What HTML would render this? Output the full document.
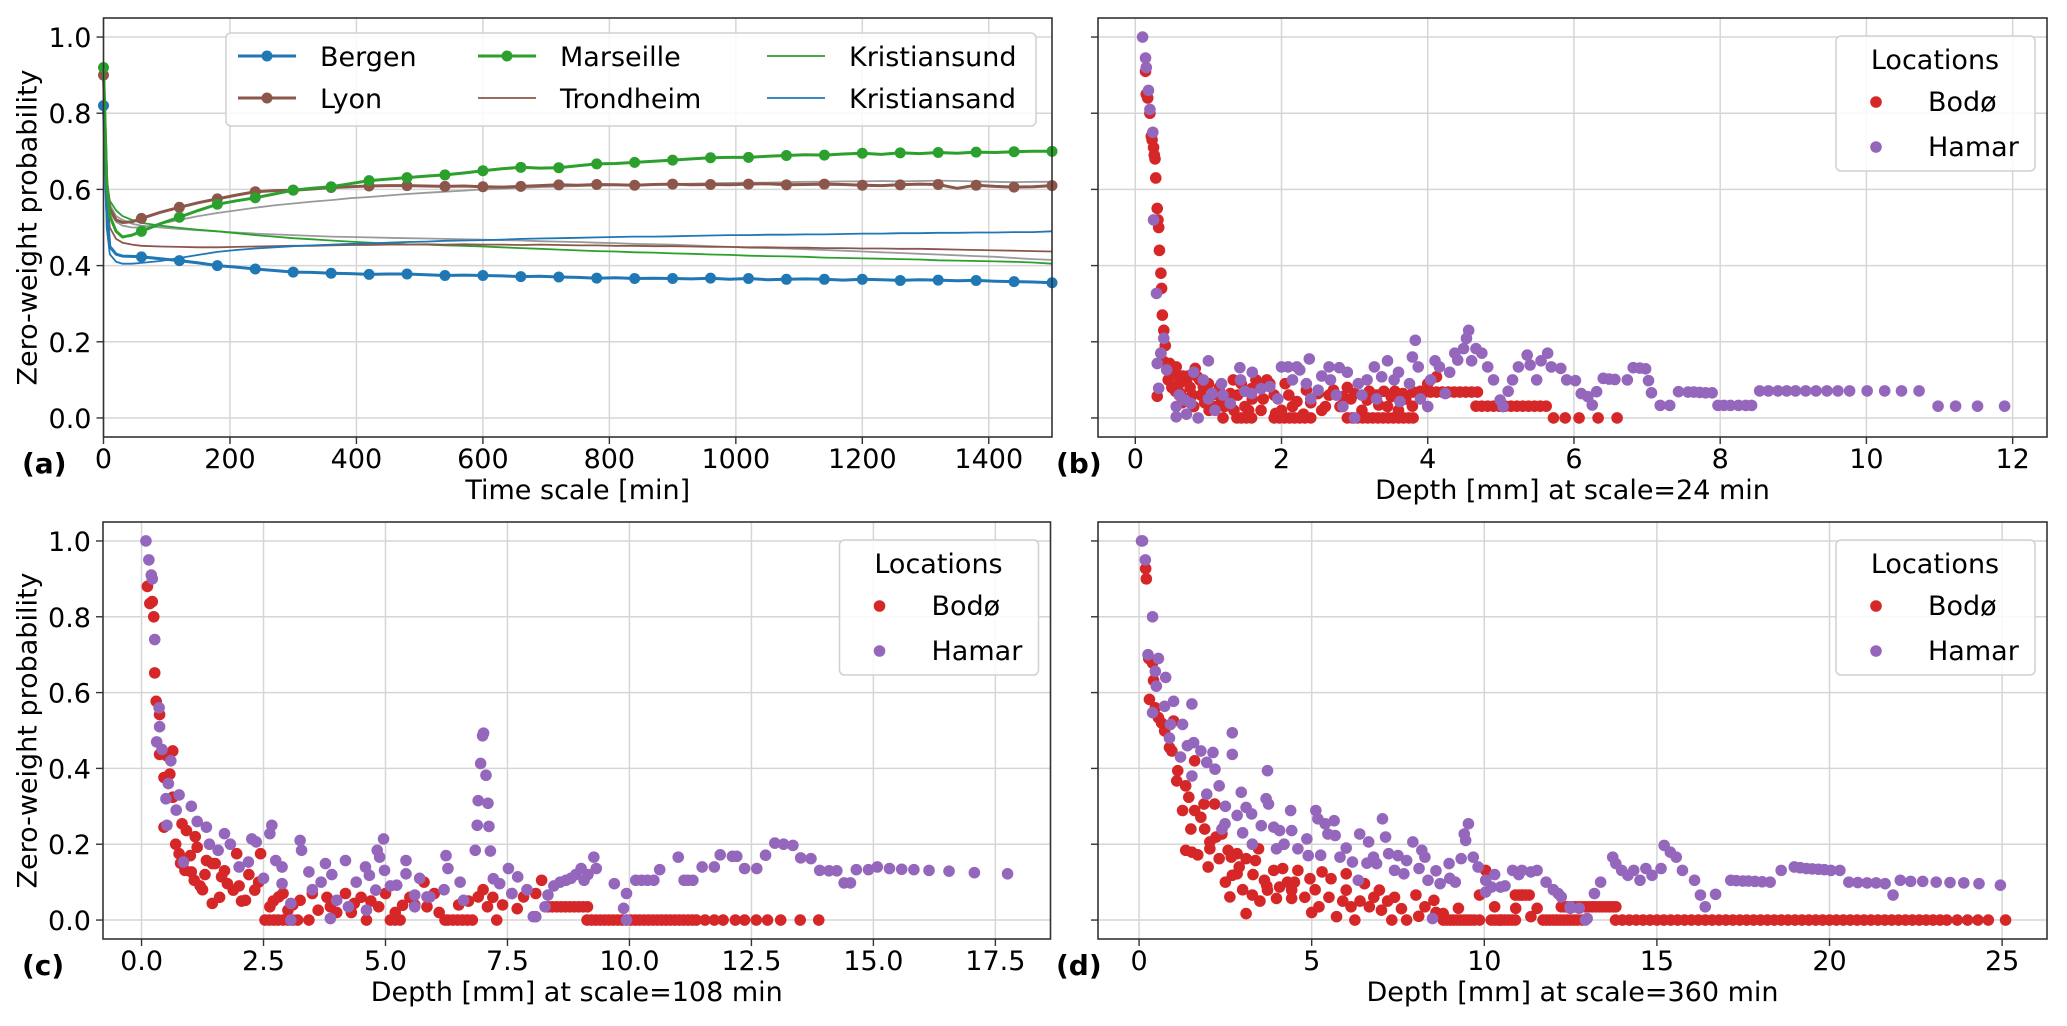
<!DOCTYPE html>
<html><head><meta charset="utf-8"><style>
body{margin:0;background:#fff}
svg{display:block;font-family:"DejaVu Sans","Liberation Sans",sans-serif}
</style></head><body>
<svg id="fig" width="2067" height="1026" viewBox="0 0 2067 1026" xmlns="http://www.w3.org/2000/svg"></svg>
<script>
// ---------- Panel (a) data ----------
const timeMin = [0,5,10,20,30,45,60,90,120,150,180,210,240,270,300,330,360,390,420,450,480,510,540,570,600,630,660,690,720,750,780,810,840,870,900,930,960,990,1020,1050,1080,1110,1140,1170,1200,1230,1260,1290,1320,1350,1380,1410,1440,1470,1500];
const bergen = [0.82,0.55,0.45,0.43,0.425,0.424,0.423,0.418,0.413,0.407,0.40,0.396,0.391,0.387,0.383,0.382,0.38,0.379,0.377,0.378,0.378,0.376,0.374,0.375,0.374,0.373,0.371,0.372,0.370,0.369,0.367,0.368,0.366,0.367,0.366,0.365,0.367,0.364,0.366,0.363,0.364,0.365,0.364,0.362,0.364,0.363,0.361,0.363,0.362,0.360,0.361,0.359,0.358,0.357,0.355];
const marseille = [0.92,0.62,0.53,0.49,0.475,0.48,0.49,0.51,0.527,0.545,0.561,0.57,0.578,0.588,0.598,0.603,0.607,0.615,0.623,0.627,0.631,0.635,0.638,0.643,0.649,0.654,0.658,0.656,0.657,0.662,0.667,0.668,0.671,0.674,0.677,0.68,0.683,0.684,0.684,0.687,0.689,0.691,0.69,0.693,0.695,0.692,0.696,0.694,0.697,0.695,0.698,0.697,0.699,0.70,0.70];
const lyon = [0.90,0.62,0.55,0.52,0.513,0.515,0.524,0.54,0.553,0.565,0.575,0.585,0.594,0.597,0.598,0.601,0.605,0.607,0.609,0.61,0.61,0.609,0.608,0.609,0.607,0.606,0.608,0.61,0.612,0.611,0.613,0.612,0.611,0.613,0.614,0.612,0.613,0.612,0.614,0.615,0.612,0.613,0.614,0.613,0.611,0.610,0.612,0.614,0.613,0.603,0.611,0.608,0.606,0.607,0.61];
const grayUp = [0.90,0.6,0.54,0.515,0.505,0.50,0.50,0.51,0.52,0.53,0.538,0.545,0.552,0.558,0.563,0.568,0.572,0.577,0.58,0.584,0.588,0.591,0.594,0.597,0.60,0.602,0.604,0.606,0.607,0.609,0.61,0.611,0.612,0.613,0.614,0.615,0.616,0.617,0.618,0.618,0.619,0.62,0.62,0.621,0.621,0.622,0.621,0.622,0.623,0.622,0.621,0.62,0.619,0.62,0.62];
const grayDown = [0.90,0.62,0.56,0.53,0.52,0.51,0.505,0.5,0.496,0.493,0.49,0.487,0.484,0.482,0.48,0.478,0.476,0.475,0.474,0.473,0.472,0.471,0.470,0.469,0.468,0.467,0.466,0.464,0.463,0.462,0.46,0.459,0.457,0.456,0.455,0.453,0.451,0.449,0.447,0.446,0.445,0.443,0.441,0.439,0.437,0.435,0.433,0.431,0.429,0.427,0.425,0.423,0.42,0.417,0.415];
const kristiansund = [0.92,0.62,0.57,0.545,0.53,0.52,0.512,0.505,0.499,0.494,0.49,0.485,0.48,0.476,0.472,0.469,0.466,0.463,0.46,0.458,0.456,0.455,0.453,0.452,0.45,0.448,0.446,0.444,0.442,0.44,0.438,0.437,0.435,0.434,0.432,0.431,0.429,0.428,0.426,0.425,0.424,0.423,0.421,0.42,0.419,0.418,0.417,0.416,0.414,0.413,0.412,0.411,0.41,0.408,0.405];
const trondheim = [0.88,0.58,0.50,0.47,0.46,0.455,0.452,0.45,0.449,0.448,0.448,0.449,0.45,0.451,0.452,0.452,0.453,0.454,0.454,0.455,0.455,0.456,0.455,0.456,0.455,0.455,0.454,0.455,0.454,0.453,0.453,0.452,0.452,0.451,0.451,0.45,0.449,0.449,0.448,0.448,0.447,0.447,0.446,0.446,0.445,0.445,0.444,0.444,0.443,0.442,0.441,0.44,0.439,0.438,0.437];
const kristiansand = [0.85,0.5,0.43,0.41,0.405,0.405,0.407,0.412,0.42,0.428,0.436,0.441,0.445,0.448,0.451,0.453,0.455,0.457,0.458,0.46,0.462,0.463,0.465,0.466,0.467,0.468,0.47,0.471,0.472,0.473,0.474,0.475,0.476,0.476,0.477,0.478,0.479,0.48,0.48,0.481,0.481,0.482,0.482,0.483,0.484,0.484,0.485,0.485,0.486,0.486,0.487,0.487,0.488,0.488,0.49];
const timeTicks = [0,200,400,600,800,1000,1200,1400];
const probTicks = [0.0,0.2,0.4,0.6,0.8,1.0];

// ---------- Panel (b): depth at scale=24 min ----------
const bodoB = [[0.14,0.91],[0.15,0.85],[0.17,0.84],[0.2,0.8],[0.22,0.74],[0.23,0.73],[0.25,0.71],[0.26,0.69],[0.27,0.68],[0.28,0.63],[0.3,0.55],[0.31,0.52],[0.32,0.5],[0.33,0.44],[0.35,0.38],[0.36,0.34],[0.37,0.27],[0.39,0.23],[0.41,0.19],[0.35,0.17],[0.39,0.148],[0.47,0.143],[0.56,0.134],[0.82,0.13],[0.3,0.057],[0.62,0.064],[0.7,0.098],[0.85,0.108],[0.93,0.082],[1.01,0.02],[1.18,0.047],[1.3,0.064],[1.34,0.1],[1.59,0.077],[1.8,0.1],[1.84,0.09],[1.72,0.02],[2.0,0.02],[2.21,0.043],[2.34,0.073],[2.5,0.064],[2.71,0.073],[2.84,0.056],[3.0,0.064],[3.17,0.047],[3.33,0.034],[3.5,0.056],[3.66,0.064],[3.79,0.031],[4.12,0.108],[1.92,0.012],[1.5,0.03],[0.5,0.12],[0.6,0.09],[0.7,0.05],[0.8,0.03],[0.9,0.06],[1.0,0.09],[1.1,0.03],[1.2,0.0],[0.55,0.07],[0.65,0.11],[0.75,0.08],[1.25,0.04],[1.4,0.06],[1.6,0.05],[1.7,0.08],[2.1,0.06],[2.3,0.01],[2.6,0.03],[2.9,0.08],[3.1,0.02],[3.4,0.07],[3.6,0.02],[5.72,0],[5.88,0],[6.07,0],[6.33,0],[6.59,0],[0.45,0.1],[0.5,0.08],[0.58,0.11],[0.64,0.04],[0.72,0.11],[0.78,0.06],[0.88,0.1],[0.95,0.04],[1.05,0.06],[1.15,0.08],[1.22,0.03],[1.35,0.02],[1.45,0.09],[1.55,0.02],[1.65,0.1],[1.75,0.05],[1.9,0.06],[2.05,0.09],[2.15,0.03],[2.4,0.04],[2.55,0.02],[2.65,0.06],[2.8,0.03],[2.95,0.05],[3.2,0.07],[3.3,0.06],[3.45,0.03],[3.55,0.07],[3.7,0.05],[3.9,0.07],[4.0,0.09]];
const bodoBRuns = [[0,[1.39,1.45,1.52,1.59,1.9,1.97,2.04,2.11,2.18,2.25,2.32,2.4,2.9,2.97,3.04,3.11,3.18,3.25,3.32,3.39,3.46,3.53,3.6,3.67,3.74,3.8]],[0.068,[3.8,3.88,3.96,4.04,4.12,4.2,4.28,4.36,4.44,4.52,4.6,4.68]],[0.031,[4.66,4.74,4.82,4.9,4.98,5.06,5.14,5.22,5.3,5.38,5.46,5.54,5.62]]];
const hamarB = [[0.1,1.0],[0.14,0.945],[0.15,0.92],[0.18,0.86],[0.2,0.81],[0.24,0.75],[0.25,0.52],[0.29,0.327],[0.3,0.143],[0.35,0.17],[0.39,0.209],[0.32,0.078],[0.43,0.126],[0.56,0.03],[0.56,0.003],[0.68,0.047],[0.76,0.038],[0.86,0],[0.93,0.1],[1.05,0.064],[1.09,0.02],[1.18,0.09],[1.3,0.038],[1.43,0.132],[1.44,0.1],[1.59,0.064],[1.72,0.077],[1.84,0.082],[2.0,0.134],[2.09,0.134],[2.21,0.134],[2.25,0.126],[2.38,0.155],[2.34,0.09],[2.5,0.073],[2.65,0.134],[2.79,0.132],[2.67,0.1],[2.84,0.03],[3.0,0.0],[3.17,0.1],[3.27,0.134],[3.37,0.108],[3.54,0.1],[3.62,0.043],[3.75,0.09],[3.79,0.16],[3.83,0.204],[3.87,0.134],[4.04,0.1],[4.0,0.03],[4.16,0.134],[4.24,0.064],[4.37,0.17],[4.41,0.152],[4.49,0.182],[4.56,0.23],[4.53,0.209],[4.66,0.182],[4.74,0.17],[4.82,0.134],[4.9,0.1],[4.99,0.047],[5.03,0.03],[5.16,0.1],[5.24,0.134],[5.36,0.165],[5.4,0.139],[5.49,0.1],[5.64,0.17],[5.69,0.134],[5.82,0.13],[5.9,0.1],[6.02,0.098],[6.1,0.064],[6.19,0.056],[6.25,0.034],[6.31,0.069],[6.4,0.104],[6.48,0.102],[6.56,0.101],[6.73,0.1],[6.81,0.132],[6.9,0.131],[6.98,0.129],[7.02,0.098],[7.06,0.066],[7.18,0.033],[7.31,0.033],[7.43,0.069],[7.56,0.068],[7.64,0.068],[7.72,0.067],[7.8,0.066],[7.89,0.066],[7.97,0.033],[8.05,0.033],[8.14,0.033],[8.25,0.033],[8.35,0.033],[8.43,0.033],[8.54,0.071],[8.66,0.071],[8.79,0.071],[8.91,0.071],[9.03,0.071],[9.17,0.071],[9.31,0.071],[9.46,0.071],[9.61,0.071],[9.77,0.071],[10.01,0.071],[10.25,0.071],[10.48,0.071],[10.72,0.071],[10.98,0.031],[11.22,0.031],[11.52,0.031],[11.89,0.031],[0.8,0.12],[1.0,0.15],[1.2,0.06],[1.6,0.12],[2.4,0.05],[2.9,0.12],[3.1,0.06],[3.45,0.15],[3.9,0.05],[0.6,0.06],[0.7,0.01],[1.0,0.05],[1.5,0.07],[1.95,0.05],[2.15,0.1],[2.55,0.11],[2.75,0.06],[3.05,0.09],[3.3,0.05],[3.6,0.12],[4.1,0.15],[4.3,0.12],[4.6,0.15],[5.1,0.07],[5.55,0.15]];
const depthTicksB = [0,2,4,6,8,10,12];

// ---------- Panel (c): depth at scale=108 min ----------
const bodoC = [[0.12,0.88],[0.17,0.835],[0.22,0.84],[0.25,0.8],[0.27,0.652],[0.3,0.577],[0.37,0.542],[0.37,0.437],[0.52,0.433],[0.64,0.446],[0.46,0.376],[0.58,0.385],[0.64,0.324],[0.46,0.245],[0.83,0.254],[0.92,0.236],[0.77,0.175],[0.89,0.131],[1.02,0.127],[1.08,0.105],[1.14,0.192],[1.33,0.157],[1.45,0.149],[1.45,0.044],[1.51,0.149],[1.64,0.114],[1.76,0.096],[1.88,0.079],[1.95,0.175],[2.13,0.052],[2.32,0.079],[2.44,0.175],[2.63,0.035],[2.81,0.061],[3.0,0.026],[3.25,0.052],[3.43,0],[3.62,0.026],[3.87,0.035],[4.18,0.07],[4.36,0.044],[4.61,0],[4.86,0.035],[5.35,0.039],[5.79,0.1],[5.85,0.035],[6.22,0],[6.9,0.061],[7.09,0.035],[7.28,0],[7.59,0.07],[7.83,0.061],[8.2,0.105],[8.08,0.07],[0.7,0.2],[0.8,0.15],[1.0,0.17],[1.2,0.09],[1.3,0.12],[1.6,0.06],[2.0,0.09],[2.2,0.12],[2.7,0.05],[3.5,0.07],[4.0,0.02],[4.5,0.06],[5.0,0.07],[5.6,0.04],[6.0,0.07],[6.5,0.04],[7.4,0.04],[11.55,0],[11.74,0],[11.92,0],[12.17,0],[12.36,0],[12.6,0],[12.83,0],[13.1,0],[13.5,0],[13.88,0],[1.1,0.22],[1.25,0.08],[1.7,0.13],[2.05,0.05],[2.4,0.1],[2.9,0.07],[3.1,0.04],[3.8,0.06],[4.3,0.02],[4.7,0.05],[5.2,0.02],[5.5,0.06],[6.1,0.02],[6.7,0.05],[7.0,0.08],[7.2,0.06],[7.7,0.03]];
const bodoCRuns = [[0.035,[8.33,8.42,8.51,8.6,8.69,8.78,8.87,8.96,9.05,9.14]],[0,[2.53,2.62,2.71,2.8,2.9,3.0,3.1,3.2,5.1,5.2,5.3,6.28,6.38,6.48,6.58,6.68,6.78,9.13,9.22,9.31,9.4,9.49,9.58,9.67,9.76,9.85,9.94,10.03,10.12,10.21,10.3,10.39,10.48,10.57,10.66,10.75,10.84,10.93,11.02,11.11,11.2,11.29,11.37]]];
const hamarC = [[0.09,1.0],[0.15,0.95],[0.2,0.91],[0.22,0.9],[0.27,0.74],[0.36,0.56],[0.37,0.51],[0.31,0.47],[0.42,0.45],[0.6,0.42],[0.55,0.36],[0.5,0.32],[0.77,0.33],[0.52,0.25],[0.71,0.29],[1.02,0.3],[1.14,0.26],[1.33,0.245],[0.86,0.153],[1.39,0.2],[1.7,0.228],[1.57,0.184],[1.82,0.2],[2.26,0.214],[2.35,0.206],[2.67,0.25],[2.63,0.228],[2.19,0.153],[2.75,0.157],[2.88,0.14],[2.88,0.096],[3.25,0.21],[3.28,0.184],[3.43,0.127],[3.06,0],[3.68,0.1],[3.77,0.149],[4.18,0.157],[4.59,0.14],[4.67,0.118],[4.83,0.184],[4.88,0.166],[4.96,0.214],[4.98,0.131],[5.42,0.157],[5.42,0.122],[5.6,0.066],[5.85,0.061],[6.24,0.17],[6.28,0.136],[6.53,0.1],[6.84,0.184],[6.88,0.25],[6.9,0.315],[6.99,0.486],[7.01,0.493],[6.95,0.413],[7.06,0.382],[7.1,0.308],[7.12,0.247],[7.15,0.182],[7.21,0.109],[7.52,0.136],[7.71,0.114],[8.03,0.009],[8.33,0.066],[8.7,0.105],[9.01,0.136],[9.32,0.136],[9.27,0.166],[9.69,0.096],[9.94,0.07],[9.88,0.031],[9.94,0],[10.13,0.105],[10.37,0.105],[10.62,0.133],[11.0,0.166],[11.12,0.105],[11.3,0.105],[11.49,0.14],[11.74,0.14],[11.86,0.172],[12.11,0.168],[12.36,0.136],[12.61,0.136],[12.79,0.171],[12.98,0.203],[13.16,0.2],[13.35,0.197],[13.51,0.164],[13.72,0.162],[13.9,0.131],[14.09,0.13],[14.25,0.13],[14.4,0.098],[14.53,0.098],[14.65,0.133],[14.9,0.133],[15.08,0.14],[15.33,0.136],[15.58,0.134],[15.83,0.133],[16.14,0.131],[16.55,0.129],[17.07,0.125],[17.75,0.122],[3.06,0.044],[4.0,0.052],[4.24,0.035],[4.8,0.079],[5.23,0.092],[5.6,0.035],[5.91,0.061],[6.6,0.052],[7.34,0.096],[7.59,0.07],[8.08,0.009],[8.27,0.035],[8.58,0.1],[9.07,0.105],[3.87,0.004],[4.61,0.026],[8.8,0.11],[8.9,0.12],[10.25,0.105],[11.2,0.105],[12.2,0.168],[2.0,0.14],[2.5,0.11],[3.5,0.08],[3.9,0.12],[4.4,0.1],[5.1,0.09],[5.7,0.11],[6.2,0.08],[7.9,0.08],[8.45,0.09],[9.15,0.12],[10.5,0.105]];
const depthTicksC = [0.0,2.5,5.0,7.5,10.0,12.5,15.0,17.5];

// ---------- Panel (d): depth at scale=360 min ----------
const bodoD = [[0.19,0.927],[0.21,0.9],[0.28,0.69],[0.39,0.678],[0.42,0.632],[0.3,0.582],[0.47,0.56],[0.56,0.534],[0.65,0.52],[1.0,0.525],[0.74,0.499],[0.88,0.455],[0.95,0.446],[1.12,0.394],[1.09,0.367],[1.35,0.354],[1.61,0.42],[1.44,0.324],[1.26,0.289],[1.61,0.289],[1.88,0.306],[2.19,0.306],[1.79,0.271],[2.05,0.206],[2.23,0.219],[2.4,0.227],[1.35,0.184],[1.53,0.179],[1.7,0.172],[2.05,0.188],[2.32,0.162],[2.58,0.184],[2.67,0.166],[2.84,0.175],[3.1,0.162],[3.46,0.188],[3.37,0.157],[2.84,0.122],[2.7,0.118],[2.63,0.061],[3.1,0.017],[3.28,0.066],[3.63,0.105],[3.9,0.131],[4.16,0.136],[4.6,0.131],[4.95,0.109],[3.72,0.079],[4.07,0.087],[4.42,0.079],[3.98,0.057],[4.42,0.057],[5.3,0.127],[5.56,0.109],[6.0,0.122],[6.0,0.079],[6.53,0.096],[6.96,0.079],[5.72,0.009],[6.25,0],[5.21,0.035],[6.14,0.035],[6.67,0.035],[7.02,0.026],[7.32,0],[7.75,0],[8.02,0.066],[8.28,0.035],[8.54,0.052],[8.81,0.017],[9.25,0.031],[10.04,0.131],[9.86,0.066],[10.3,0.035],[10.47,0],[10.91,0.031],[11.09,0.066],[11.35,0.009],[11.53,0.031],[2.0,0.14],[2.5,0.1],[3.0,0.08],[3.5,0.05],[4.3,0.1],[4.8,0.06],[5.0,0.02],[5.5,0.06],[6.4,0.05],[7.2,0.05],[7.6,0.03],[8.1,0.01],[1.5,0.24],[1.9,0.24],[2.9,0.14],[3.3,0.12],[3.7,0.09],[4.5,0.1],[5.1,0.08],[5.9,0.05],[6.8,0.06],[7.4,0.06],[8.6,0.02]];
const bodoDRuns = [[0,[8.81,8.91,9.01,9.11,9.21,9.31,9.41,9.51,9.61,9.71,9.86,10.2,10.3,10.4,10.5,10.6,10.7,10.8,10.9,11.7,11.8,11.9,12.0,12.1,12.2,12.3,12.4,12.5,12.6,12.7,12.84,13.8,14.0,14.2,14.4,14.6,14.8,15.0,15.2,15.4,15.6,15.8,16.0,16.2,16.4,16.6,16.8,17.0,17.2,17.4,17.6,17.8,18.0,18.2,18.4,18.6,18.8,19.0,19.2,19.4,19.6,19.8,20.0,20.2,20.4,20.6,20.8,21.0,21.2,21.4,21.6,21.8,22.0,22.2,22.4,22.6,22.8,23.0,23.2,23.4,23.7,24.0,24.3,24.6,25.1]],[0.035,[12.23,12.33,12.43,12.53,12.63,12.73,12.83,12.93,13.03,13.13,13.23,13.33,13.43,13.53,13.63,13.73,13.81]],[0.066,[10.9,11.0,11.1,11.2,11.3]]];
const hamarD = [[0.07,1.0],[0.1,1.0],[0.18,0.95],[0.39,0.8],[0.26,0.7],[0.56,0.69],[0.47,0.656],[0.5,0.617],[0.77,0.64],[0.39,0.547],[0.74,0.564],[1.0,0.577],[1.53,0.57],[0.91,0.516],[1.26,0.516],[0.88,0.48],[1.4,0.46],[1.58,0.468],[1.79,0.446],[2.14,0.442],[2.7,0.494],[2.7,0.437],[1.96,0.416],[2.2,0.398],[1.53,0.38],[2.32,0.354],[1.96,0.332],[2.96,0.337],[3.72,0.394],[3.68,0.32],[3.75,0.306],[3.1,0.297],[2.84,0.276],[3.26,0.28],[2.49,0.254],[2.4,0.24],[3.28,0.2],[3.54,0.249],[3.9,0.245],[4.39,0.289],[4.07,0.236],[4.42,0.236],[3.98,0.188],[4.6,0.188],[4.86,0.214],[5.12,0.289],[5.18,0.267],[5.39,0.254],[5.65,0.262],[5.47,0.227],[5.68,0.223],[5.26,0.171],[5.82,0.166],[6.39,0.227],[6.65,0.206],[7.05,0.267],[7.14,0.219],[7.23,0.175],[6.79,0.166],[6.18,0.153],[6.35,0.105],[6.88,0.149],[7.4,0.131],[7.75,0.157],[7.93,0.206],[8.19,0.184],[8.11,0.136],[7.67,0.122],[8.28,0.166],[8.37,0.105],[8.72,0.096],[8.98,0.149],[9.16,0.1],[9.33,0.162],[9.42,0.227],[9.54,0.254],[9.46,0.21],[9.68,0.166],[9.82,0.14],[10.04,0.105],[10.21,0.087],[10.47,0.087],[10.82,0.131],[11.09,0.131],[11.35,0.127],[11.53,0.131],[11.79,0.1],[12.14,0.07],[12.49,0.031],[12.75,0.031],[12.93,0],[13.19,0.07],[13.37,0.1],[13.72,0.166],[13.81,0.149],[13.98,0.131],[14.16,0.118],[14.33,0.131],[14.51,0.105],[14.68,0.136],[14.86,0.118],[15.12,0.136],[15.21,0.197],[15.39,0.179],[15.56,0.166],[15.74,0.131],[16.09,0.105],[16.26,0.066],[16.4,0.035],[16.7,0.068],[17.14,0.105],[17.3,0.104],[17.49,0.103],[17.65,0.103],[17.84,0.102],[18.05,0.101],[18.28,0.1],[18.6,0.131],[18.98,0.14],[19.15,0.138],[19.33,0.136],[19.5,0.135],[19.68,0.134],[19.85,0.133],[20.04,0.131],[20.3,0.131],[20.56,0.1],[20.82,0.099],[21.09,0.098],[21.35,0.098],[21.61,0.096],[21.84,0.066],[22.05,0.105],[22.35,0.102],[22.7,0.102],[23.09,0.1],[23.49,0.099],[23.89,0.098],[24.33,0.096],[24.95,0.092],[8.5,0.004],[12.98,0.004],[10.04,0.074],[12.49,0.035],[12.23,0.061],[10.6,0.09],[11.0,0.12],[12.0,0.08],[10.3,0.12],[1.2,0.43],[2.5,0.3],[3.0,0.23],[4.2,0.2],[4.9,0.17],[6.0,0.19],[6.6,0.15],[7.5,0.17],[8.6,0.13],[9.0,0.11]];
const depthTicksD = [0,5,10,15,20,25];

// ---------- rendering ----------
const NS = 'http://www.w3.org/2000/svg';
const svg = document.getElementById('fig');
const C = {bodo:'#d62728', hamar:'#9467bd', bergen:'#1f77b4', lyon:'#8c564b', marseille:'#2ca02c', gray:'#9a9a9a'};
const R_PT = 5.8;
function mk(tag, attrs, parent){
  const e = document.createElementNS(NS, tag);
  for (const k in attrs) e.setAttribute(k, attrs[k]);
  (parent||svg).appendChild(e);
  return e;
}
function makeAxes(key, L, R, T, B, xmin, xmax, ymin, ymax){
  const g = mk('g', {});
  
  
  const sx = v => L + (v - xmin) / (xmax - xmin) * (R - L);
  const sy = v => B - (v - ymin) / (ymax - ymin) * (B - T);
  return {g, sx, sy, L, R, T, B};
}
function grid(ax, xt, yt){
  const gg = mk('g', {}, ax.g);
  
  
  xt.forEach(v => mk('line', {x1:ax.sx(v), x2:ax.sx(v), y1:ax.T, y2:ax.B, stroke:'#d6d6d6', 'stroke-width':1.5}, gg));
  yt.forEach(v => mk('line', {x1:ax.L, x2:ax.R, y1:ax.sy(v), y2:ax.sy(v), stroke:'#d6d6d6', 'stroke-width':1.5}, gg));
}
function frame(ax, xt, yt, xfmt, showY, xlabel, panel){
  mk('rect', {x:ax.L, y:ax.T, width:ax.R-ax.L, height:ax.B-ax.T, fill:'none', stroke:'#333', 'stroke-width':1.6}, ax.g);
  xt.forEach(v => {
    mk('line', {x1:ax.sx(v), x2:ax.sx(v), y1:ax.B, y2:ax.B+7, stroke:'#333', 'stroke-width':1.4}, ax.g);
    const t = mk('text', {x:ax.sx(v), y:ax.B+31, 'text-anchor':'middle', 'font-size':27, fill:'#000'}, ax.g);
    t.textContent = xfmt(v);
    
    
  });
  yt.forEach(v => {
    mk('line', {x1:ax.L-7, x2:ax.L, y1:ax.sy(v), y2:ax.sy(v), stroke:'#333', 'stroke-width':1.4}, ax.g);
    if (showY){
      const t = mk('text', {x:ax.L-12, y:ax.sy(v)+10, 'text-anchor':'end', 'font-size':27, fill:'#000'}, ax.g);
      t.textContent = v.toFixed(1);
      
      
    }
  });
  const xl = mk('text', {x:(ax.L+ax.R)/2, y:ax.B+62, 'text-anchor':'middle', 'font-size':27, fill:'#000'}, ax.g);
  xl.textContent = xlabel;
  
  
  const pl = mk('text', {x:(showY ? 22 : ax.L-42), y:ax.B+36, 'font-size':28, 'font-weight':'bold', fill:'#000'}, ax.g);
  pl.textContent = panel;
  
  
  if (showY){
    const cy = (ax.T+ax.B)/2;
    const yl = mk('text', {x:29, y:cy, 'text-anchor':'middle', 'font-size':27, fill:'#000', transform:'rotate(-90 29 '+cy+')', 'dominant-baseline':'middle'}, ax.g);
    yl.textContent = 'Zero-weight probability';
    
    
  }
}
function scatter(ax, pts, runs, color, name){
  const g = mk('g', {fill:color}, ax.g);
  
  
  pts.forEach(p => {
    const c = mk('circle', {cx:ax.sx(p[0]), cy:ax.sy(p[1]), r:R_PT}, g);
    
    
  });
  runs.forEach(r => r[1].forEach(x => {
    const c = mk('circle', {cx:ax.sx(x), cy:ax.sy(r[0]), r:R_PT}, g);
    
    
  }));
}
function scatterLegend(ax){
  const x0 = ax.R - 211, y0 = ax.T + 18;
  const g = mk('g', {}, ax.g);
  
  
  mk('rect', {x:x0, y:y0, width:199, height:135, rx:5, fill:'#fff', 'fill-opacity':0.85, stroke:'#d0d0d0', 'stroke-width':1.5}, g);
  const t = mk('text', {x:x0+99, y:y0+33, 'text-anchor':'middle', 'font-size':27}, g); t.textContent = 'Locations';
  [['Bodø', C.bodo, 75], ['Hamar', C.hamar, 120]].forEach(e => {
    const item = mk('g', {}, g);
    
    
    mk('circle', {cx:x0+40, cy:y0+e[2]-9, r:R_PT, fill:e[1]}, item);
    const tt = mk('text', {x:x0+92, y:y0+e[2], 'font-size':27}, item); tt.textContent = e[0];
  });
}

// Panel (a)
const A = makeAxes('a', 103.5, 1052, 18, 437, 0, 1500, -0.05, 1.05);
grid(A, timeTicks, probTicks);
function line(ax, ys, color, w, name, markers){
  const g = mk('g', {}, ax.g);
  
  
  const d = timeMin.map((t,i) => (i?'L':'M') + ax.sx(t).toFixed(1) + ' ' + ax.sy(ys[i]).toFixed(1)).join(' ');
  mk('path', {d, fill:'none', stroke:color, 'stroke-width':w, 'stroke-linejoin':'round'}, g);
  if (markers) timeMin.forEach((t,i) => { if (t % 60 === 0) mk('circle', {cx:ax.sx(t), cy:ax.sy(ys[i]), r:5.5, fill:color}, g); });
}
line(A, grayUp, C.gray, 1.8, 'series-gray-increasing', false);
line(A, grayDown, C.gray, 1.8, 'series-gray-decreasing', false);
line(A, kristiansund, C.marseille, 1.8, 'series-kristiansund', false);
line(A, trondheim, C.lyon, 1.8, 'series-trondheim', false);
line(A, kristiansand, C.bergen, 1.8, 'series-kristiansand', false);
line(A, bergen, C.bergen, 3, 'series-bergen', true);
line(A, lyon, C.lyon, 3, 'series-lyon', true);
line(A, marseille, C.marseille, 3, 'series-marseille', true);
frame(A, timeTicks, probTicks, v => String(v), true, 'Time scale [min]', '(a)');
(function(){
  const g = mk('g', {}, A.g);
  
  
  mk('rect', {x:226, y:33, width:810, height:93, rx:5, fill:'#fff', 'fill-opacity':0.85, stroke:'#d0d0d0', 'stroke-width':1.5}, g);
  const items = [['Bergen',C.bergen,true,238,56],['Lyon',C.lyon,true,238,98],['Marseille',C.marseille,true,478,56],['Trondheim',C.lyon,false,478,98],['Kristiansund',C.marseille,false,767,56],['Kristiansand',C.bergen,false,767,98]];
  items.forEach(it => {
    const e = mk('g', {}, g);
    
    
    mk('line', {x1:it[3], x2:it[3]+58, y1:it[4], y2:it[4], stroke:it[1], 'stroke-width':it[2]?3:1.8}, e);
    if (it[2]) mk('circle', {cx:it[3]+29, cy:it[4], r:5.5, fill:it[1]}, e);
    const t = mk('text', {x:it[3]+82, y:it[4]+10, 'font-size':27}, e); t.textContent = it[0];
  });
})();

// Panel (b)
const Bp = makeAxes('b', 1098, 2047, 18, 437, -0.51, 12.47, -0.05, 1.05);
grid(Bp, depthTicksB, probTicks);
scatter(Bp, bodoB, bodoBRuns, C.bodo, 'series-bodo');
scatter(Bp, hamarB, [], C.hamar, 'series-hamar');
frame(Bp, depthTicksB, probTicks, v => String(v), false, 'Depth [mm] at scale=24 min', '(b)');
scatterLegend(Bp);

// Panel (c)
const Cp = makeAxes('c', 103, 1050.5, 522, 939, -0.79, 18.63, -0.05, 1.05);
grid(Cp, depthTicksC, probTicks);
scatter(Cp, bodoC, bodoCRuns, C.bodo, 'series-bodo');
scatter(Cp, hamarC, [], C.hamar, 'series-hamar');
frame(Cp, depthTicksC, probTicks, v => v.toFixed(1), true, 'Depth [mm] at scale=108 min', '(c)');
scatterLegend(Cp);

// Panel (d)
const Dp = makeAxes('d', 1098, 2047, 522, 939, -1.19, 26.3, -0.05, 1.05);
grid(Dp, depthTicksD, probTicks);
scatter(Dp, bodoD, bodoDRuns, C.bodo, 'series-bodo');
scatter(Dp, hamarD, [], C.hamar, 'series-hamar');
frame(Dp, depthTicksD, probTicks, v => String(v), false, 'Depth [mm] at scale=360 min', '(d)');
scatterLegend(Dp);
</script>
</body></html>
